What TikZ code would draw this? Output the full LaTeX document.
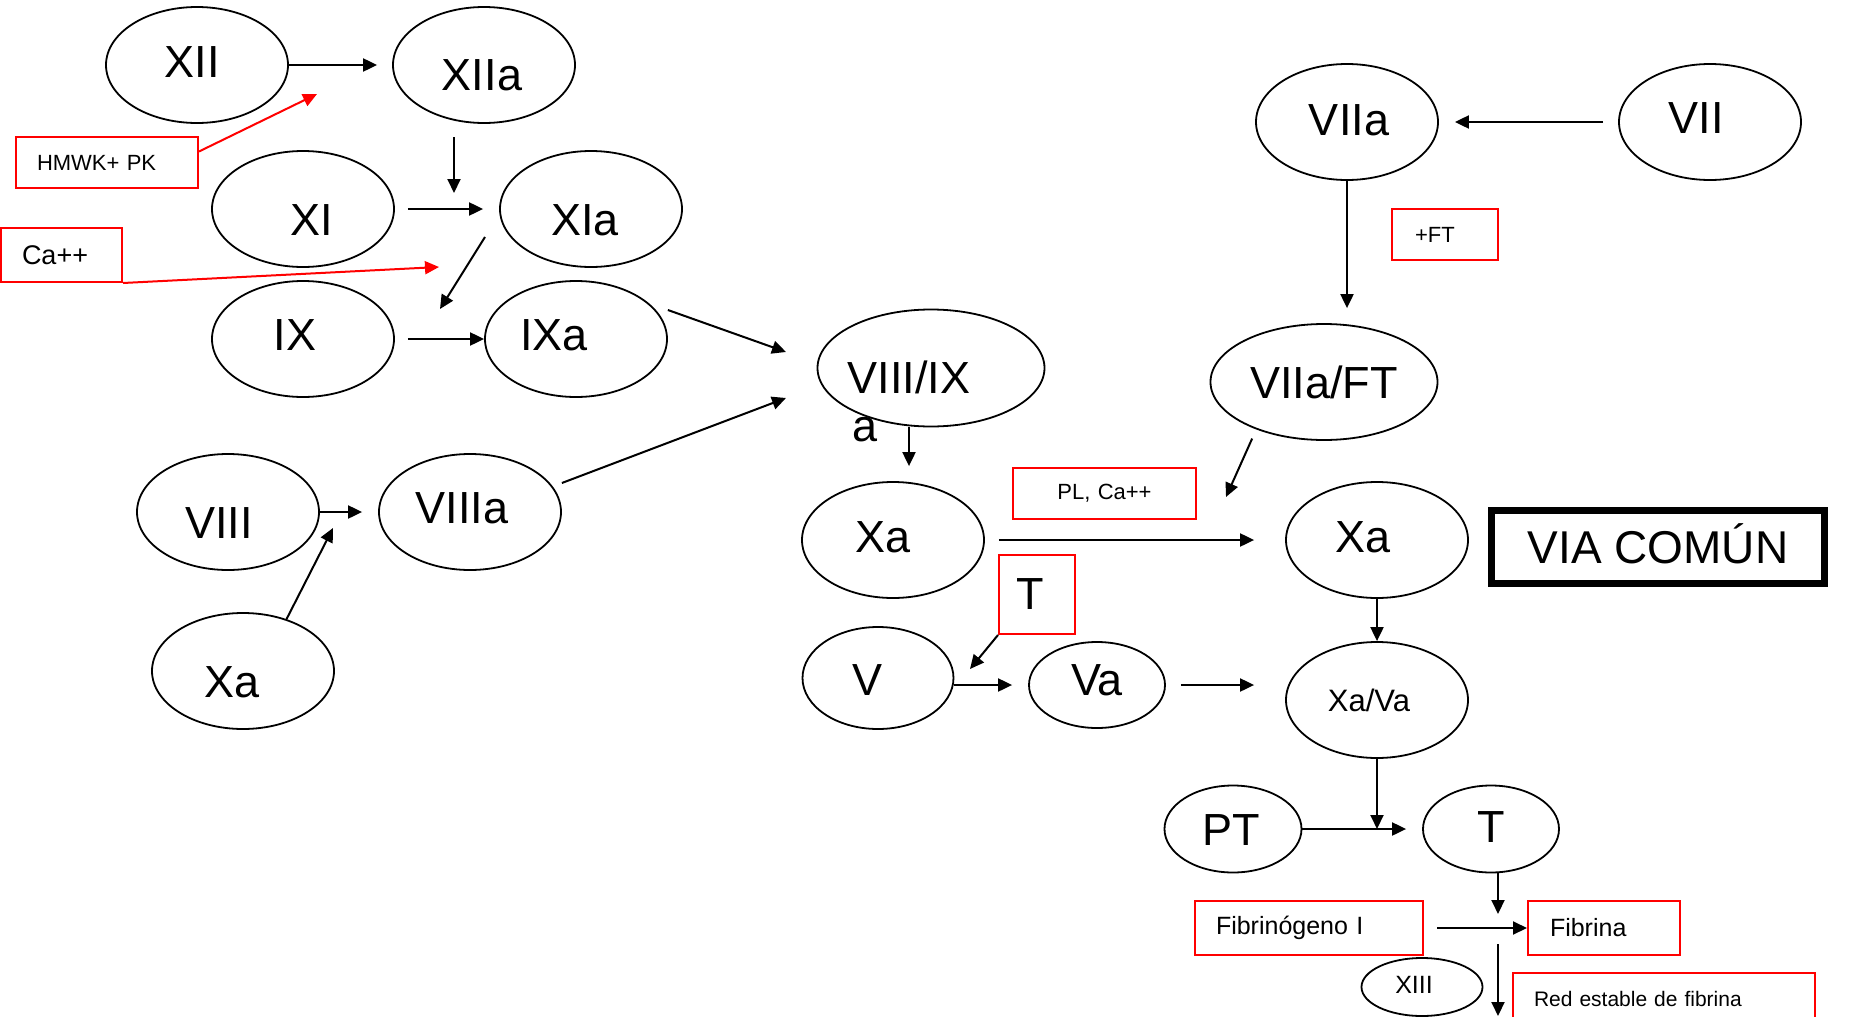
\documentclass[tikz,border=0pt]{standalone}
\usepackage{fontspec}
\setmainfont{Liberation Sans}
\usetikzlibrary{arrows.meta, positioning, shapes.geometric}

\begin{document}
\begin{tikzpicture}[
  x=0.5pt, y=-0.5pt,
  fac/.style={ellipse, draw, line width=0.9pt, minimum width=91pt, minimum height=58pt, inner sep=0pt},
  big/.style={font=\fontsize{22.5}{24}\selectfont},
  mid/.style={font=\fontsize{15.5}{17}\selectfont},
  sml/.style={font=\fontsize{12.5}{14}\selectfont},
  tag/.style={draw=red, line width=1pt, align=left, inner xsep=10.5pt, inner ysep=0pt,
    minimum height=25.5pt, font=\fontsize{11}{13}\selectfont},
  arr/.style={line width=1pt, -{Triangle[length=7pt, width=6.5pt]}},
  rarr/.style={arr, red}
]
  \useasboundingbox (0,0) rectangle (1854,1017);

  % intrinsic pathway
  \node[fac, label={[big, xshift=-2.5pt, yshift=1.5pt]center:XII}] (xii) at (197,65) {};
  \node[fac, label={[big, xshift=-1pt, yshift=-5pt]center:XIIa}] (xiia) at (484,65) {};
  \node[fac, label={[big, xshift=4.5pt, yshift=-5.5pt]center:XI}] (xi) at (303,209) {};
  \node[fac, label={[big, xshift=-3pt, yshift=-5.5pt]center:XIa}] (xia) at (591,209) {};
  \node[fac, label={[big, xshift=-4pt, yshift=2pt]center:IX}] (ix) at (303,339) {};
  \node[fac, label={[big, xshift=-11pt, yshift=2pt]center:IXa}] (ixa) at (576,339) {};
  \node[fac, label={[big, xshift=-4.5pt, yshift=-5.5pt]center:VIII}] (viii) at (228,512) {};
  \node[fac, label={[big, xshift=-4pt, yshift=2pt]center:VIIIa}] (viiia) at (470,512) {};
  \node[fac, label={[big, xshift=-5.5pt, yshift=-5.5pt]center:Xa}] (xa1) at (243,671) {};

  \node[tag, text width=70pt] (hmwk) at (107,162.5) {HMWK+ PK};
  \node[tag, text width=39.5pt, minimum height=27pt, font=\fontsize{13.5}{15}\selectfont] (ca) at (61.5,255) {Ca++};

  \coordinate (hm-tip) at (317,94);
  \coordinate (ca-tip) at (439,267);
  \coordinate (xiia-out) at (454,137);
  \coordinate (xia-in) at (454,193);
  \coordinate (xia-out) at (485,237);
  \coordinate (ix-in) at (440,309);
  \coordinate (viii-in) at (333,528);
  \coordinate (v89-in1) at (786,352);
  \coordinate (v89-in2) at (786,398);

  \draw[arr, shorten >=7.5pt] (xii.east) -- (xiia.west);
  \draw[rarr] ([yshift=5.5pt]hmwk.east) -- (hm-tip);
  \draw[arr] (xiia-out) -- (xia-in);
  \draw[arr, shorten <=6.5pt, shorten >=8pt] (xi.east) -- (xia.west);
  \draw[rarr] (ca.south east) -- (ca-tip);
  \draw[arr] (xia-out) -- (ix-in);
  \draw[arr, shorten <=6.5pt] (ix.east) -- (ixa.west);
  \draw[arr] ([yshift=14.5pt]ixa.east) -- (v89-in1);
  \draw[arr, shorten >=8pt] (viii.east) -- (viiia.west);
  \draw[arr] (xa1.50) -- (viii-in);
  \draw[arr] ([yshift=14.5pt]viiia.east) -- (v89-in2);

  % tenase and Xa
  \node[fac, minimum width=113.5pt, minimum height=58.5pt,
    label={[big, xshift=-11pt, yshift=-4.5pt]center:VIII/IX}] (v89) at (931,368) {};
  \node[big] (v89a) at (865,430) {a};
  \node[fac, label={[big, xshift=-5pt, yshift=1.5pt]center:Xa}] (xa2) at (893,540) {};
  \node[tag, align=center, text width=70.5pt] (pl) at (1104.5,493.5) {PL, Ca++};
  \node[tag, big, inner xsep=8.5pt, text width=21pt, minimum height=39.5pt] (tbox) at (1037,594.5) {T};
  \node[fac, minimum width=75.5pt, minimum height=51pt,
    label={[big, xshift=-5.5pt, yshift=-1pt]center:V}] (v) at (878,678) {};
  \node[fac, minimum width=68pt, minimum height=43pt,
    label={[big, yshift=2.5pt]center:Va}] (va) at (1097,685) {};

  \coordinate (xa-in) at (1226,497);
  \coordinate (v-in) at (970,669);

  \draw[arr, shorten >=7.5pt] ([xshift=-11pt]v89.south) -- ([xshift=8pt]xa2.north);
  \draw[arr] (tbox.south west) -- (v-in);
  \draw[arr, shorten >=8pt] (v.east |- va.west) -- (va.west);

  % extrinsic pathway
  \node[fac, label={[big, xshift=1pt, yshift=1pt]center:VIIa}] (viia) at (1347,122) {};
  \node[fac, label={[big, xshift=-7pt, yshift=2pt]center:VII}] (vii) at (1710,122) {};
  \node[tag, inner xsep=11.5pt, text width=30pt] (ft) at (1445,234.5) {+FT};
  \node[fac, minimum width=113.5pt, label={[big]center:VIIa/FT}] (v7f) at (1324,382) {};

  \draw[arr, shorten <=7.5pt, shorten >=8pt] (vii.west) -- (viia.east);
  \draw[arr, shorten >=7.5pt] (viia.south) -- (viia.south |- v7f.north);
  \draw[arr, shorten <=5pt] (v7f.215) -- (xa-in);

  % common pathway
  \node[fac, label={[big, xshift=-7pt, yshift=1.5pt]center:Xa}] (xa3) at (1377,540) {};
  \node[draw, line width=3.5pt, minimum width=166.5pt, minimum height=36.5pt, inner sep=0pt,
    text height=16.5pt, text depth=0pt, font=\fontsize{23}{25}\selectfont] (via) at (1658,547) {VIA COMÚN};
  \node[fac, label={[mid, xshift=-4pt]center:Xa/Va}] (xava) at (1377,700) {};
  \node[fac, minimum width=68.5pt, minimum height=43.5pt,
    label={[big, xshift=-1pt, yshift=-0.5pt]center:PT}] (pt) at (1233,829) {};
  \node[fac, minimum width=68pt, minimum height=43.5pt,
    label={[big, yshift=1pt]center:T}] (t) at (1491,829) {};
  \node[tag, sml, text width=93pt, minimum height=27pt] (fibg) at (1309,928) {Fibrinógeno I};
  \node[tag, sml, inner xsep=11pt, text width=54pt, minimum height=27pt] (fibr) at (1604,928) {Fibrina};
  \node[fac, minimum width=60.5pt, minimum height=29pt,
    label={[sml, xshift=-4pt, yshift=1pt]center:XIII}] (xiii) at (1422,987) {};
  \node[tag, text width=130pt, minimum height=26pt, font=\fontsize{10.5}{12}\selectfont] (red) at (1664,999) {Red estable de fibrina};

  \coordinate (fib-in) at (1498,914);
  \coordinate (xiii-out) at (1498,944);
  \coordinate (xiii-in) at (1498,1016);

  \draw[arr, shorten <=7pt, shorten >=15.5pt] (xa2.east) -- (xa3.west);
  \draw[arr, shorten <=7.5pt, shorten >=15.5pt] (va.east) -- (va.east -| xava.west);
  \draw[arr] (xa3.south) -- (xava.north);
  \draw[arr] (xava.south) -- (xava.south |- pt.east);
  \draw[arr, shorten >=8pt] (pt.east) -- (t.west);
  \draw[arr] ([xshift=3.5pt]t.south) -- (fib-in);
  \draw[arr, shorten <=6.5pt] (fibg.east) -- (fibr.west);
  \draw[arr] (xiii-out) -- (xiii-in);
\end{tikzpicture}
\end{document}
